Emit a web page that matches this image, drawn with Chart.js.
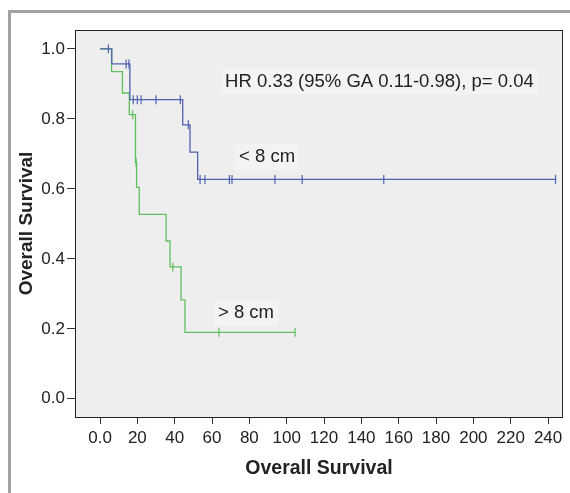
<!DOCTYPE html>
<html lang="en">
<head>
    <meta charset="UTF-8">
    <title>Overall Survival</title>
    <script src="https://cdn.jsdelivr.net/npm/chart.js"></script>
    <style>
        html, body { margin: 0; padding: 0; background: #ffffff; }
        #grafico { display: block; }
    </style>
</head>
<body>
    <canvas id="grafico" width="570" height="493"></canvas>
<script>
    // curva < 8 cm (azul)
    var tempoMenor = [6.3, 16, 44.3, 48.2, 52.3];
    var sobrevidaMenor = [0.957, 0.855, 0.783, 0.705, 0.627];
    var censuraMenor = [4.5, 14, 15.5, 17.8, 20, 22, 30, 43, 47.3, 53.6, 56.2, 69.3, 70.7, 93.7, 108.3, 152, 244];
    var fimMenor = 244;

    // curva > 8 cm (verde)
    var tempoMaior = [6.2, 12, 15.7, 19, 19.6, 21, 35.4, 37.5, 43.4, 45.5];
    var sobrevidaMaior = [0.935, 0.874, 0.812, 0.676, 0.604, 0.527, 0.451, 0.377, 0.283, 0.19];
    var censuraMaior = [17.5, 19.3, 39, 63.7, 104.5];
    var fimMaior = 104.5;

    var ticksX = [0, 20, 40, 60, 80, 100, 120, 140, 160, 180, 200, 220, 240];
    var ticksY = [0, 0.2, 0.4, 0.6, 0.8, 1.0];

    var corAzul = '#4f62b0';
    var corVerde = '#5fbf5f';

    function montarCurva(tempos, valores, fim) {
        var pontos = [{ x: 0, y: 1 }];
        for (var i = 0; i < tempos.length; i++) {
            pontos.push({ x: tempos[i], y: valores[i] });
        }
        pontos.push({ x: fim, y: valores[valores.length - 1] });
        return pontos;
    }

    function valorEm(t, tempos, valores) {
        var v = 1;
        for (var i = 0; i < tempos.length; i++) {
            if (tempos[i] <= t) v = valores[i];
        }
        return v;
    }

    function montarCensura(censuras, tempos, valores) {
        return censuras.map(function (t) {
            return { x: t, y: valorEm(t, tempos, valores) };
        });
    }

    const fundo = {
        id: 'fundo',
        beforeDraw(chart) {
            const ctx = chart.ctx;
            const a = chart.chartArea;
            ctx.save();
            ctx.fillStyle = '#ffffff';
            ctx.fillRect(0, 0, chart.width, chart.height);
            // moldura cinza da figura
            ctx.fillStyle = '#a3a3a3';
            ctx.fillRect(8, 10, chart.width - 8, 3);
            ctx.fillRect(8, 10, 3, chart.height - 10);
            ctx.fillStyle = '#eeeeee';
            ctx.fillRect(a.left, a.top, a.right - a.left, a.bottom - a.top);
            ctx.restore();
        },
        afterDraw(chart) {
            const ctx = chart.ctx;
            const a = chart.chartArea;
            ctx.save();
            ctx.strokeStyle = '#222222';
            ctx.lineWidth = 1;
            ctx.strokeRect(Math.round(a.left) + 0.5, Math.round(a.top) + 0.5,
                Math.round(a.right - a.left) - 1, Math.round(a.bottom - a.top));
            ctx.restore();
        }
    };

    var textos = [
        { texto: 'HR 0.33 (95% GA 0.11-0.98), p= 0.04', x: 67, y: 0.907 },
        { texto: '< 8 cm', x: 74.5, y: 0.69 },
        { texto: '> 8 cm', x: 63.2, y: 0.245 }
    ];

    const rotulos = {
        id: 'rotulos',
        afterDatasetsDraw(chart) {
            const ctx = chart.ctx;
            const sx = chart.scales.x;
            const sy = chart.scales.y;
            ctx.save();
            ctx.font = '18.5px "Liberation Sans", Arial, sans-serif';
            ctx.textBaseline = 'middle';
            ctx.textAlign = 'left';
            textos.forEach(function (t) {
                var px = sx.getPixelForValue(t.x);
                var py = sy.getPixelForValue(t.y);
                var w = ctx.measureText(t.texto).width;
                ctx.fillStyle = 'rgba(244,244,244,0.8)';
                ctx.fillRect(px - 4, py - 13, w + 8, 26);
                ctx.fillStyle = '#222222';
                ctx.fillText(t.texto, px, py);
            });
            ctx.restore();
        }
    };

    const grafico = new Chart('grafico', {
        type: 'line',
        data: {
            datasets: [
                {
                    label: '< 8 cm',
                    data: montarCurva(tempoMenor, sobrevidaMenor, fimMenor),
                    borderColor: corAzul,
                    borderWidth: 1.3,
                    stepped: true,
                    pointRadius: 0,
                    fill: false,
                    order: 1
                },
                {
                    label: '< 8 cm censura',
                    type: 'scatter',
                    data: montarCensura(censuraMenor, tempoMenor, sobrevidaMenor),
                    pointStyle: 'line',
                    rotation: 90,
                    pointRadius: 4.5,
                    borderColor: corAzul,
                    borderWidth: 1.2,
                    order: 1
                },
                {
                    label: '> 8 cm',
                    data: montarCurva(tempoMaior, sobrevidaMaior, fimMaior),
                    borderColor: corVerde,
                    borderWidth: 1.3,
                    stepped: true,
                    pointRadius: 0,
                    fill: false,
                    order: 2
                },
                {
                    label: '> 8 cm censura',
                    type: 'scatter',
                    data: montarCensura(censuraMaior, tempoMaior, sobrevidaMaior),
                    pointStyle: 'line',
                    rotation: 90,
                    pointRadius: 4.5,
                    borderColor: corVerde,
                    borderWidth: 1.2,
                    order: 2
                }
            ]
        },
        options: {
            responsive: false,
            animation: false,
            layout: { padding: { top: 30, right: 7, left: 0, bottom: 0 } },
            plugins: {
                legend: { display: false },
                tooltip: { enabled: false }
            },
            scales: {
                x: {
                    type: 'linear',
                    min: -13.4,
                    max: 248,
                    afterBuildTicks: function (scale) {
                        scale.ticks = ticksX.map(function (v) { return { value: v }; });
                    },
                    afterFit: function (scale) { scale.height = 76; },
                    grid: {
                        drawOnChartArea: false,
                        drawTicks: true,
                        tickLength: 7,
                        color: '#333333'
                    },
                    border: { display: false },
                    ticks: {
                        autoSkip: false,
                        maxRotation: 0,
                        padding: 4,
                        color: '#222222',
                        font: { family: '"Liberation Sans", Arial, sans-serif', size: 17 },
                        callback: function (v) { return v === 0 ? '0.0' : String(v); }
                    },
                    title: {
                        display: true,
                        text: 'Overall Survival',
                        color: '#222222',
                        padding: { top: 0, bottom: 13 },
                        font: { family: '"Liberation Sans", Arial, sans-serif', size: 19.5, weight: 'bold' }
                    }
                },
                y: {
                    type: 'linear',
                    min: -0.052,
                    max: 1.054,
                    afterBuildTicks: function (scale) {
                        scale.ticks = ticksY.map(function (v) { return { value: v }; });
                    },
                    afterFit: function (scale) { scale.width = 75; },
                    grid: {
                        drawOnChartArea: false,
                        drawTicks: true,
                        tickLength: 8,
                        color: '#333333'
                    },
                    border: { display: false },
                    ticks: {
                        padding: 2,
                        color: '#222222',
                        font: { family: '"Liberation Sans", Arial, sans-serif', size: 17 },
                        callback: function (v) { return v.toFixed(1); }
                    },
                    title: {
                        display: true,
                        text: 'Overall Survival',
                        color: '#222222',
                        padding: { top: 15, bottom: 0 },
                        font: { family: '"Liberation Sans", Arial, sans-serif', size: 19, weight: 'bold' }
                    }
                }
            }
        },
        plugins: [fundo, rotulos]
    });
</script>
</body>
</html>
